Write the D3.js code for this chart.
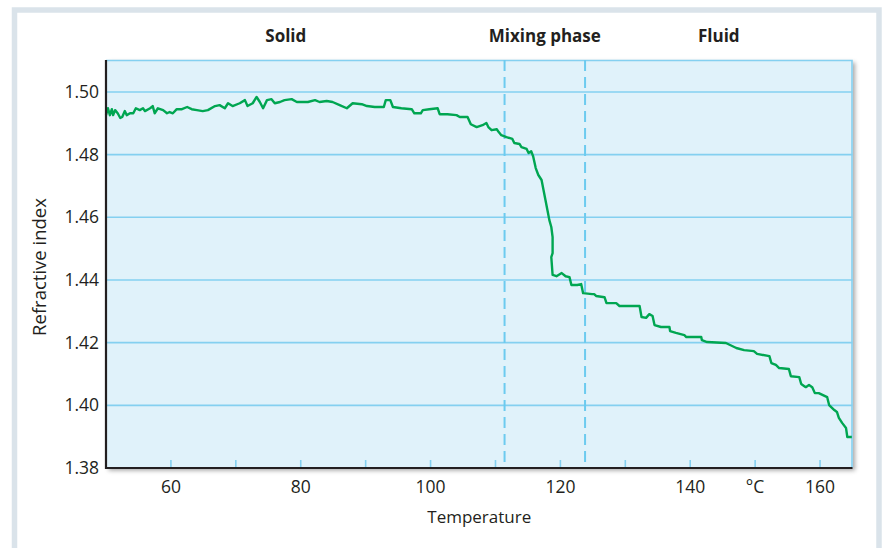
<!DOCTYPE html>
<html>
<head>
<meta charset="utf-8">
<script src="https://cdn.jsdelivr.net/npm/d3@7"></script>
<style>
  body { margin: 0; background: #fff; }
  text { font-family: "Open Sans", sans-serif; fill: #231f20; }
</style>
</head>
<body>
<svg id="chart"></svg>
<script>
const width = 884;
const height = 548;

// data
const temperature = [
  50.0, 50.3, 50.6, 50.9, 51.1, 51.4, 51.8, 52.2, 52.5, 52.9, 53.2, 53.7, 54.2, 54.6, 55.2, 55.7, 56.0, 56.8, 57.2, 57.5,
  58.0, 58.8, 59.4, 59.8, 60.3, 60.9, 61.7, 62.5, 63.2, 64.0, 64.9, 65.7, 66.8, 67.5, 68.3, 68.8, 69.5, 70.6, 71.4, 71.8,
  72.6, 73.2, 73.7, 74.2, 74.8, 75.5, 76.0, 76.8, 77.5, 78.6, 79.4, 80.2, 81.1, 82.2, 82.9, 84.0, 84.9, 86.0, 87.1, 88.0,
  89.4, 90.2, 91.4, 92.8, 93.1, 93.8, 94.2, 95.5, 97.1, 97.5, 98.5, 98.8, 99.8, 101.1, 101.4, 102.6, 104.0, 104.5, 105.7, 106.2,
  107.1, 108.0, 108.6, 108.9, 109.4, 110.2, 110.5, 110.9, 111.7, 112.6, 112.9, 113.7, 114.0, 114.8, 115.1, 115.5, 115.8, 116.2, 116.6, 117.1,
  117.4, 117.7, 118.0, 118.3, 118.6, 118.8, 118.8, 118.6, 118.8, 119.4, 120.2, 120.8, 121.4, 121.7, 122.6, 123.2, 123.5, 124.9, 125.2, 125.5,
  126.8, 127.1, 128.6, 129.1, 132.2, 132.5, 133.2, 133.7, 134.2, 134.5, 135.5, 136.8, 136.9, 137.8, 139.1, 139.4, 141.7, 141.8, 142.6, 145.5,
  147.1, 148.3, 149.8, 150.3, 152.2, 152.5, 153.2, 153.7, 155.2, 155.5, 156.8, 157.1, 157.8, 158.3, 158.8, 159.2, 159.8, 161.1, 161.4, 162.2,
  162.6, 162.9, 163.4, 164.0, 164.2, 164.9
];
const refractiveIndex = [
  1.4926, 1.4948, 1.4926, 1.4945, 1.4926, 1.4942, 1.4932, 1.4917, 1.4920, 1.4939, 1.4926, 1.4932, 1.4932, 1.4948, 1.4942, 1.4948, 1.4939, 1.4948, 1.4955, 1.4932,
  1.4948, 1.4942, 1.4932, 1.4936, 1.4932, 1.4945, 1.4945, 1.4952, 1.4945, 1.4942, 1.4939, 1.4942, 1.4955, 1.4958, 1.4948, 1.4964, 1.4955, 1.4964, 1.4974, 1.4955,
  1.4964, 1.4984, 1.4968, 1.4948, 1.4974, 1.4977, 1.4964, 1.4968, 1.4974, 1.4977, 1.4968, 1.4968, 1.4968, 1.4974, 1.4968, 1.4971, 1.4968, 1.4958, 1.4948, 1.4964,
  1.4961, 1.4955, 1.4952, 1.4952, 1.4974, 1.4974, 1.4952, 1.4948, 1.4945, 1.4932, 1.4932, 1.4942, 1.4945, 1.4948, 1.4929, 1.4929, 1.4926, 1.4920, 1.4920, 1.4897,
  1.4888, 1.4894, 1.4901, 1.4888, 1.4878, 1.4881, 1.4872, 1.4862, 1.4856, 1.4850, 1.4837, 1.4834, 1.4824, 1.4818, 1.4805, 1.4811, 1.4795, 1.4757, 1.4735, 1.4719,
  1.4687, 1.4655, 1.4623, 1.4591, 1.4569, 1.4537, 1.4486, 1.4473, 1.4416, 1.4412, 1.4422, 1.4412, 1.4409, 1.4384, 1.4384, 1.4387, 1.4358, 1.4355, 1.4355, 1.4349,
  1.4345, 1.4326, 1.4326, 1.4317, 1.4317, 1.4282, 1.4279, 1.4291, 1.4285, 1.4256, 1.4250, 1.4250, 1.4237, 1.4231, 1.4224, 1.4218, 1.4218, 1.4208, 1.4202, 1.4199,
  1.4183, 1.4176, 1.4173, 1.4164, 1.4157, 1.4135, 1.4129, 1.4119, 1.4116, 1.4093, 1.4090, 1.4068, 1.4058, 1.4065, 1.4058, 1.4039, 1.4039, 1.4026, 1.4001, 1.3985,
  1.3979, 1.3960, 1.3944, 1.3928, 1.3899, 1.3899
];

const xTicks = [60, 80, 100, 120, 140, 160];
const xMinorTicks = [60, 70, 80, 90, 100, 110, 120, 130, 140, 150, 160];
const yTicks = [1.38, 1.40, 1.42, 1.44, 1.46, 1.48, 1.50];
const phaseBounds = [111.4, 123.8];
const phaseLabels = ['Solid', 'Mixing phase', 'Fluid'];
const phaseLabelPos = [77.7, 117.6, 144.4];

const margin = { top: 60, right: 31.5, bottom: 80, left: 106 };
const innerW = width - margin.left - margin.right;
const innerH = height - margin.top - margin.bottom;

const svg = d3.select('#chart').attr('width', width).attr('height', height);

// outer frame
svg.append('rect')
  .attr('x', 14.5).attr('y', 10)
  .attr('width', 864.5).attr('height', 580)
  .attr('fill', '#fff')
  .attr('stroke', '#dae3ea')
  .attr('stroke-width', 5.5);

const defs = svg.append('defs');
const shadow = defs.append('filter').attr('id', 'shadow')
  .attr('x', '-5%').attr('y', '-5%').attr('width', '110%').attr('height', '110%');
shadow.append('feDropShadow')
  .attr('dx', 2.5).attr('dy', 2.5).attr('stdDeviation', 2)
  .attr('flood-color', '#000').attr('flood-opacity', 0.35);

const x = d3.scaleLinear().domain([50, 165]).range([0, innerW]);
const y = d3.scaleLinear().domain([1.38, 1.5102]).range([innerH, 0]);

const g = svg.append('g').attr('transform', `translate(${margin.left},${margin.top})`);

g.append('rect')
  .attr('width', innerW).attr('height', innerH)
  .attr('fill', '#e0f2fa')
  .attr('filter', 'url(#shadow)');

// grid
g.selectAll('.grid')
  .data(yTicks.filter(d => d > 1.38))
  .enter().append('line')
  .attr('class', 'grid')
  .attr('x1', 0).attr('x2', innerW)
  .attr('y1', d => y(d)).attr('y2', d => y(d))
  .attr('stroke', '#84d0f0')
  .attr('stroke-width', 1.6);

// top + right border
g.append('path')
  .attr('d', `M0,0.5H${innerW - 0.5}V${innerH}`)
  .attr('fill', 'none')
  .attr('stroke', '#84d0f0')
  .attr('stroke-width', 1.6);

// inside ticks
g.selectAll('.minor')
  .data(xMinorTicks)
  .enter().append('line')
  .attr('class', 'minor')
  .attr('x1', d => x(d)).attr('x2', d => x(d))
  .attr('y1', innerH).attr('y2', innerH - 8)
  .attr('stroke', '#84d0f0')
  .attr('stroke-width', 1.6);

// phase boundaries
g.selectAll('.phase')
  .data(phaseBounds)
  .enter().append('line')
  .attr('class', 'phase')
  .attr('x1', d => x(d)).attr('x2', d => x(d))
  .attr('y1', 0).attr('y2', innerH)
  .attr('stroke', '#6ccbef')
  .attr('stroke-width', 2)
  .attr('stroke-dasharray', '11,6');

const pts = temperature.map((t, i) => [t, refractiveIndex[i]]);
g.append('path')
  .datum(pts)
  .attr('d', d3.line().x(d => x(d[0])).y(d => y(d[1])))
  .attr('fill', 'none')
  .attr('stroke', '#00a651')
  .attr('stroke-width', 2.4)
  .attr('stroke-linejoin', 'round');

// axes lines
g.append('path')
  .attr('d', `M0,0V${innerH}H${innerW}`)
  .attr('fill', 'none')
  .attr('stroke', '#231f20')
  .attr('stroke-width', 2.2);

// labels
g.selectAll('.ylab')
  .data(yTicks)
  .enter().append('text')
  .attr('class', 'ylab')
  .attr('x', -7)
  .attr('y', d => y(d))
  .attr('dy', '0.35em')
  .attr('text-anchor', 'end')
  .style('font-size', '17.5px')
  .text(d => d.toFixed(2));

g.selectAll('.xlab')
  .data(xTicks)
  .enter().append('text')
  .attr('class', 'xlab')
  .attr('x', d => x(d))
  .attr('y', innerH + 25)
  .attr('text-anchor', 'middle')
  .style('font-size', '17.5px')
  .text(d => d);

g.append('text')
  .attr('x', x(150))
  .attr('y', innerH + 25)
  .attr('text-anchor', 'middle')
  .style('font-size', '17.5px')
  .text('°C');

g.append('text')
  .attr('x', innerW / 2)
  .attr('y', innerH + 55)
  .attr('text-anchor', 'middle')
  .style('font-size', '17px')
  .text('Temperature');

g.append('text')
  .attr('transform', `translate(${40 - margin.left},${innerH / 2 + 3}) rotate(-90)`)
  .attr('dy', '0.35em')
  .attr('text-anchor', 'middle')
  .style('font-size', '18.5px')
  .text('Refractive index');

g.selectAll('.phaselab')
  .data(phaseLabels)
  .enter().append('text')
  .attr('class', 'phaselab')
  .attr('x', (d, i) => x(phaseLabelPos[i]))
  .attr('y', -18)
  .attr('text-anchor', 'middle')
  .style('font-size', '17px')
  .style('font-weight', 'bold')
  .text(d => d);
</script>
</body>
</html>
